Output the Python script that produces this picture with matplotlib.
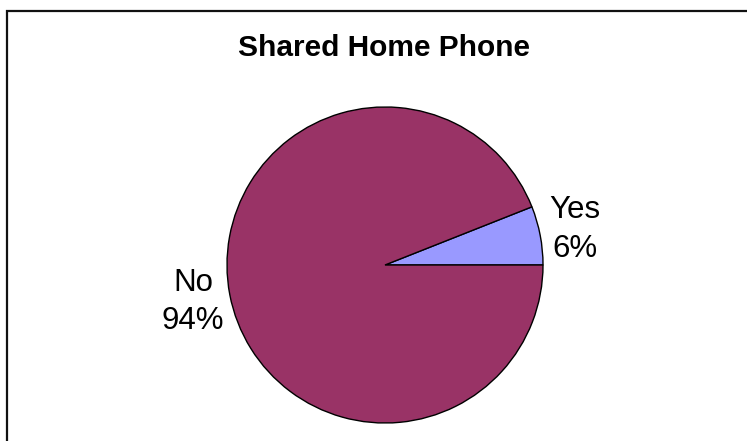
import matplotlib
matplotlib.use("Agg")
import matplotlib.pyplot as plt
from matplotlib.patches import Rectangle

labels = ["Yes", "No"]
shares = [6, 94]
colors = ["#9999FF", "#993366"]
title = "Shared Home Phone"

plt.rcParams["font.family"] = ["Liberation Sans", "DejaVu Sans"]

W, H = 747, 441
fig = plt.figure(figsize=(W / 100, H / 100), dpi=100)

# chart frame (left and top edges visible, the rest runs off the canvas)
fig.patches.append(Rectangle((7 / W, -0.05), 1.2, 1 - 11 / H + 0.05,
                             transform=fig.transFigure, fill=False,
                             edgecolor="#111111", linewidth=1.6))

r = 158
cx, cy = 385, 265
ax = fig.add_axes([(cx - r) / W, (H - cy - r) / H, 2 * r / W, 2 * r / H])
wedges, _ = ax.pie(shares, colors=colors, startangle=0, counterclock=True,
                   radius=1.0,
                   wedgeprops=dict(edgecolor="black", linewidth=1.0))
ax.set_xlim(-1, 1)
ax.set_ylim(-1, 1)
ax.set_aspect("equal")
ax.axis("off")

# category labels with percentages
label_pos = {"Yes": (575, 229.5), "No": (193, 302)}
for lab, val in zip(labels, shares):
    x, y = label_pos[lab]
    fig.text(x / W, 1 - y / H, f"{lab}\n{val}%", ha="center", va="center",
             fontsize=22.5, linespacing=1.36, color="black")

fig.text(384 / W, 1 - 48 / H, title, ha="center", va="center",
         fontsize=21.5, fontweight="bold", color="black")

fig.savefig("out.png", dpi=100, facecolor="white")
